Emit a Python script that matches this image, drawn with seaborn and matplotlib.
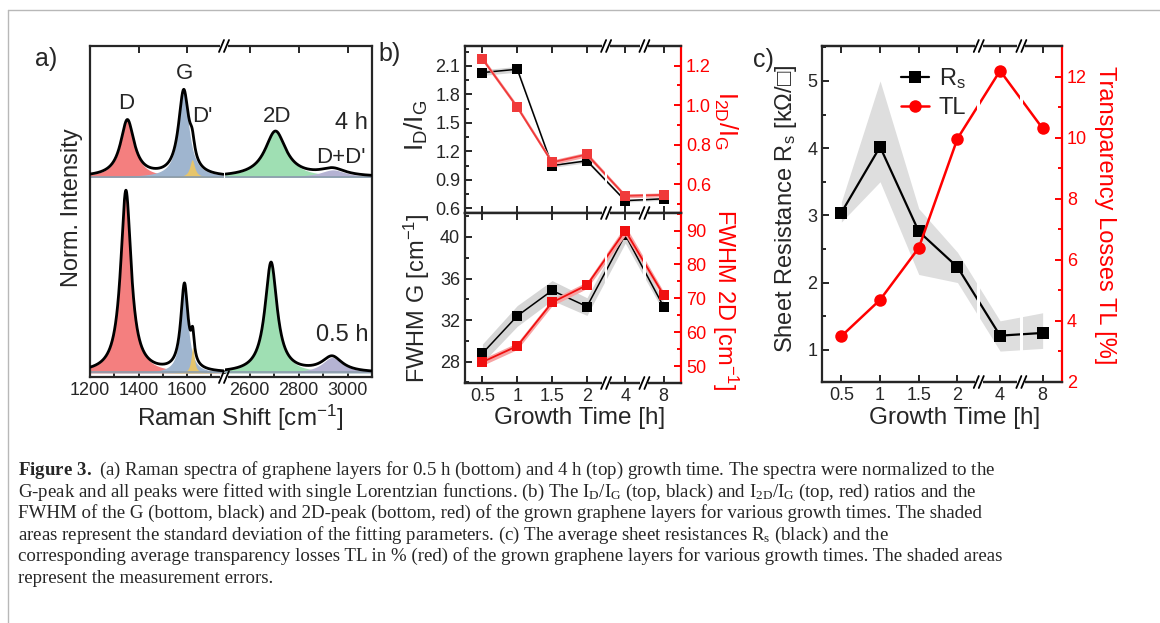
import numpy as np
import matplotlib
matplotlib.use("Agg")
import matplotlib.pyplot as plt
from matplotlib.lines import Line2D
from matplotlib.patches import Rectangle
from matplotlib.ticker import AutoMinorLocator, MultipleLocator
import seaborn as sns

# Style :-
sns.set_style("ticks")
plt.rcParams['font.family'] = ['Liberation Sans', 'DejaVu Sans']
plt.rcParams['mathtext.fontset'] = 'custom'
plt.rcParams['mathtext.rm'] = 'Liberation Sans'
plt.rcParams['mathtext.it'] = 'Liberation Sans:italic'
plt.rcParams['mathtext.bf'] = 'Liberation Serif:bold'
plt.rcParams['mathtext.default'] = 'regular'
plt.rcParams['mathtext.fallback'] = 'stixsans'
plt.rcParams['axes.linewidth'] = 1.6

# Data :-
# (a) Raman peaks (Lorentzian fit parameters), order: D, G, D', 2D, D+D'
peak_names = ['D', 'G', "D'", '2D', "D+D'"]
peak_colors = ['#f47f7f', '#9fb5cf', '#e6c56c', '#9fdfb3', '#b5b3d3']
pos_05h = [1348, 1589, 1623, 2688, 2937]
amp_05h = [2.0, 0.95, 0.28, 1.21, 0.17]
fwhm_05h = [52, 36, 16, 60, 100]
pos_4h = [1354, 1586, 1621, 2706, 2940]
amp_4h = [0.62, 0.93, 0.19, 0.50, 0.08]
fwhm_4h = [68, 52, 24, 104, 125]
offset_4h = 2.15

# (b) and (c) growth series
growth_labels = ['0.5', '1', '1.5', '2', '4', '8']
xpos = [0, 1, 2, 3, 4.1, 5.2]
break_pos = [3.55, 4.65]

id_ig = [2.03, 2.065, 1.05, 1.10, 0.68, 0.70]
id_ig_sd = [0.03, 0.03, 0.02, 0.02, 0.015, 0.015]
i2d_ig = [1.235, 0.99, 0.71, 0.75, 0.54, 0.545]
i2d_ig_sd = [0.012, 0.012, 0.012, 0.012, 0.01, 0.01]

fwhm_g = [28.8, 32.4, 34.85, 33.3, 40.2, 33.3]
fwhm_g_sd = [0.9, 1.0, 0.95, 0.85, 0.8, 0.5]
fwhm_2d = [51.2, 55.9, 68.8, 73.9, 90.0, 71.0]
fwhm_2d_sd = [1.0, 1.0, 1.0, 1.0, 1.5, 1.0]

rs = [3.04, 4.02, 2.76, 2.23, 1.21, 1.25]
rs_lo = [2.9, 3.5, 2.12, 2.0, 0.98, 1.02]
rs_hi = [3.2, 5.0, 3.1, 2.45, 1.43, 1.55]
tl = [3.5, 4.69, 6.39, 9.97, 12.19, 10.30]

caption = [
    r"$\mathbf{Figure\ 3.\ }$(a) Raman spectra of graphene layers for 0.5 h (bottom) and 4 h (top) growth time. The spectra were normalized to the",
    r"G-peak and all peaks were fitted with single Lorentzian functions. (b) The I$_D$/I$_G$ (top, black) and I$_{2D}$/I$_G$ (top, red) ratios and the",
    r"FWHM of the G (bottom, black) and 2D-peak (bottom, red) of the grown graphene layers for various growth times. The shaded",
    r"areas represent the standard deviation of the fitting parameters. (c) The average sheet resistances R$_s$ (black) and the",
    r"corresponding average transparency losses TL in % (red) of the grown graphene layers for various growth times. The shaded areas",
    r"represent the measurement errors.",
]

RED = '#ff0000'
W, H = 1160, 623


def px(x, y):  # pixel (top-left origin) -> figure fraction
    return x / W, 1 - y / H


def lorentz(x, c, a, w):
    return a / (1 + ((x - c) / (w / 2)) ** 2)


def break_mark(xp, yp):
    x0, y0 = px(xp - 4, yp + 3)
    fig.add_artist(Rectangle((x0, y0), 8 / W, 6 / H, transform=fig.transFigure,
                             color='white', zorder=10, lw=0))
    for dx in (-2.5, 2.5):
        xa, ya = px(xp + dx - 2.5, yp + 6)
        xb, yb = px(xp + dx + 2.5, yp - 6)
        fig.add_artist(Line2D([xa, xb], [ya, yb], transform=fig.transFigure,
                              color='black', lw=1.3, zorder=11))


def style_ax(ax):
    ax.tick_params(direction='in', which='both', width=1.4, labelsize=13)
    ax.tick_params(which='major', length=5)
    ax.tick_params(which='minor', length=3)


fig = plt.figure(figsize=(11.6, 6.23), dpi=100)

# ---------------- (a) Raman spectra ----------------
axa1 = fig.add_axes([90 / W, 1 - 377 / H, 133.5 / W, 331 / H])
axa2 = fig.add_axes([225 / W, 1 - 377 / H, 147 / W, 331 / H])
for ax, (lo, hi) in zip([axa1, axa2], [(1200, 1750), (2500, 3100)]):
    x = np.linspace(lo, hi, 900)
    for off, pos, amp, wid in [(0, pos_05h, amp_05h, fwhm_05h),
                               (offset_4h, pos_4h, amp_4h, fwhm_4h)]:
        total = np.full_like(x, off, dtype=float)
        for c, a, w, col in zip(pos, amp, wid, peak_colors):
            comp = lorentz(x, c, a, w)
            ax.fill_between(x, off, off + comp, color=col, lw=0, zorder=1)
            total += comp
        ax.plot(x, np.full_like(x, off + 0.005), color='#8a9cac', lw=1.2, zorder=1.5)
        sns.lineplot(x=x, y=total, color='black', lw=2, ax=ax, zorder=3)
    ax.set_xlim(lo, hi)
    ax.set_ylim(-0.045, 3.59)
    ax.set_yticks([])
    ax.set_xlabel('')
    ax.set_ylabel('')
    style_ax(ax)
    ax.tick_params(axis='x', top=True, bottom=True)
    ax.xaxis.set_major_locator(MultipleLocator(200))
    ax.xaxis.set_minor_locator(MultipleLocator(100))
axa1.spines['right'].set_visible(False)
axa2.spines['left'].set_visible(False)
axa1.set_xticks([1200, 1400, 1600])
axa2.set_xticks([2600, 2800, 3000])
break_mark(224, 46)
break_mark(224, 377)

lab_kw = dict(ha='center', va='center', fontsize=16)
axa1.text(1350, 2.96, 'D', **lab_kw)
axa1.text(1590, 3.29, 'G', **lab_kw)
axa1.text(1663, 2.82, "D'", **lab_kw)
axa2.text(2714, 2.82, '2D', **lab_kw)
axa2.text(3015, 2.74, '4 h', ha='center', va='center', fontsize=17)
axa2.text(2975, 2.37, "D+D'", **lab_kw)
axa2.text(2978, 0.42, '0.5 h', ha='center', va='center', fontsize=17)

fig.text(*px(46, 59), 'a)', fontsize=18, ha='center', va='center')
fig.text(*px(72, 208), 'Norm. Intensity', fontsize=17, rotation=90, ha='center', va='center')
fig.text(*px(240, 418), r'Raman Shift [cm$^{-1}$]', fontsize=17.5, ha='center', va='center')


# ---------------- growth series helpers ----------------
def series_axes(rect, y_left, y_right):
    ax = fig.add_axes(rect)
    tw = ax.twinx()
    for a in (ax, tw):
        a.set_xlim(-0.5, 5.7)
        style_ax(a)
    ax.set_ylim(*y_left)
    tw.set_ylim(*y_right)
    ax.set_xticks(xpos)
    ax.set_xticklabels(growth_labels)
    ax.tick_params(axis='x', top=True, bottom=True)
    ax.spines['right'].set_visible(False)
    tw.spines['left'].set_visible(False)
    tw.spines['right'].set_color(RED)
    tw.tick_params(axis='y', which='both', colors=RED)
    for b in break_pos:
        tw.axvspan(b - 0.04, b + 0.04, color='white', lw=0, zorder=3)
    return ax, tw


def draw_breaks(ax, ys):
    p = ax.get_position()
    for b in break_pos:
        xp = (p.x0 + (b + 0.5) / 6.2 * p.width) * W
        for yp in ys:
            break_mark(xp, yp)


# ---------------- (b) Raman ratios and FWHM ----------------
axb1, twb1 = series_axes([465 / W, 1 - 213 / H, 216 / W, 167 / H], (0.55, 2.31), (0.453, 1.30))
axb1.fill_between(xpos, np.array(id_ig) - id_ig_sd, np.array(id_ig) + id_ig_sd,
                  color='#d6d6d6', lw=0)
sns.lineplot(x=xpos, y=id_ig, color='black', lw=1.1, marker='s', markersize=6.5,
             markeredgewidth=0, ax=axb1)
twb1.fill_between(xpos, np.array(i2d_ig) - i2d_ig_sd, np.array(i2d_ig) + i2d_ig_sd,
                  color='#f7a3a3', lw=0)
sns.lineplot(x=xpos, y=i2d_ig, color='#f03a3a', lw=1.3, marker='s', markersize=6.5,
             markeredgewidth=0, ax=twb1)
axb1.tick_params(axis='x', labelbottom=False)
axb1.set_yticks([0.6, 0.9, 1.2, 1.5, 1.8, 2.1])
axb1.yaxis.set_minor_locator(AutoMinorLocator(2))
twb1.set_yticks([0.6, 0.8, 1.0, 1.2])
twb1.yaxis.set_minor_locator(AutoMinorLocator(2))

axb2, twb2 = series_axes([465 / W, 1 - 383 / H, 216 / W, 170 / H], (25.95, 42.3), (45, 95.2))
axb2.fill_between(xpos, np.array(fwhm_g) - fwhm_g_sd, np.array(fwhm_g) + fwhm_g_sd,
                  color='#d6d6d6', lw=0)
sns.lineplot(x=xpos, y=fwhm_g, color='black', lw=1.1, marker='s', markersize=6.5,
             markeredgewidth=0, ax=axb2)
twb2.fill_between(xpos, np.array(fwhm_2d) - fwhm_2d_sd, np.array(fwhm_2d) + fwhm_2d_sd,
                  color='#f7a3a3', lw=0)
sns.lineplot(x=xpos, y=fwhm_2d, color='#f01010', lw=1.3, marker='s', markersize=6.5,
             markeredgewidth=0, ax=twb2)
axb2.set_yticks([28, 32, 36, 40])
axb2.yaxis.set_minor_locator(AutoMinorLocator(2))
twb2.set_yticks([50, 60, 70, 80, 90])
twb2.yaxis.set_minor_locator(AutoMinorLocator(2))
for a in (axb1, twb1, axb2, twb2):
    a.set_xlabel('')
    a.set_ylabel('')
draw_breaks(axb1, [46, 213])
draw_breaks(axb2, [383])

fig.text(*px(390, 54), 'b)', fontsize=18, ha='center', va='center')
fig.text(*px(416, 125), r'I$_D$/I$_G$', fontsize=19, rotation=90, ha='center', va='center')
fig.text(*px(726, 120), r'I$_{2D}$/I$_G$', fontsize=18, rotation=270, ha='center', va='center', color=RED)
fig.text(*px(417, 298), r'FWHM G [cm$^{-1}$]', fontsize=17, rotation=90, ha='center', va='center')
fig.text(*px(725, 300), r'FWHM 2D [cm$^{-1}$]', fontsize=17, rotation=270, ha='center', va='center', color=RED)
fig.text(*px(580, 418), 'Growth Time [h]', fontsize=17.5, ha='center', va='center')

# ---------------- (c) sheet resistance and transparency losses ----------------
axc, twc = series_axes([822 / W, 1 - 382 / H, 240 / W, 336 / H], (0.52, 5.52), (2.0, 13.0))
axc.fill_between(xpos, rs_lo, rs_hi, color='#dedede', lw=0)
sns.lineplot(x=xpos, y=rs, color='black', lw=1.6, marker='s', markersize=8.5,
             markeredgewidth=0, ax=axc, label=r'R$_s$', legend=False)
sns.lineplot(x=xpos, y=tl, color=RED, lw=1.8, marker='o', markersize=9,
             markeredgewidth=0, ax=twc, label='TL', legend=False)
axc.set_yticks([1, 2, 3, 4, 5])
axc.yaxis.set_minor_locator(AutoMinorLocator(2))
twc.set_yticks([2, 4, 6, 8, 10, 12])
twc.yaxis.set_minor_locator(AutoMinorLocator(2))
for a in (axc, twc):
    a.set_xlabel('')
    a.set_ylabel('')
draw_breaks(axc, [46, 382])
h1, l1 = axc.get_legend_handles_labels()
h2, l2 = twc.get_legend_handles_labels()
twc.legend(h1 + h2, l1 + l2, loc='upper left', bbox_to_anchor=(0.28, 0.975), frameon=False,
           fontsize=17, handlelength=1.2, handletextpad=0.4, labelspacing=0.25, borderpad=0)

fig.text(*px(763, 60), 'c)', fontsize=18, ha='center', va='center')
fig.text(*px(786, 209), r'Sheet Resistance R$_s$ [k$\Omega$/□]', fontsize=17, rotation=90,
         ha='center', va='center')
fig.text(*px(1105, 215), 'Transparency Losses TL [%]', fontsize=17, rotation=270,
         ha='center', va='center', color=RED)
fig.text(*px(955, 418), 'Growth Time [h]', fontsize=17.5, ha='center', va='center')

# ---------------- frame and caption ----------------
fig.add_artist(Line2D([8 / W, 8 / W], [0, 1 - 10 / H], transform=fig.transFigure, color='#b8b8b8', lw=1))
fig.add_artist(Line2D([8 / W, 1], [1 - 10 / H, 1 - 10 / H], transform=fig.transFigure, color='#b8b8b8', lw=1))

cap_texts = []
for i, line in enumerate(caption):
    t = fig.text(*px(18, 475 + i * 21.6), line, fontsize=12, family='Liberation Serif', va='baseline')
    cap_texts.append(t)
fig.canvas.draw()
w0 = cap_texts[0].get_window_extent().width
fs = min(12 * 1127 / w0, 13.6)
for t in cap_texts:
    t.set_fontsize(fs)

fig.savefig('out.png', dpi=100, facecolor='white')
